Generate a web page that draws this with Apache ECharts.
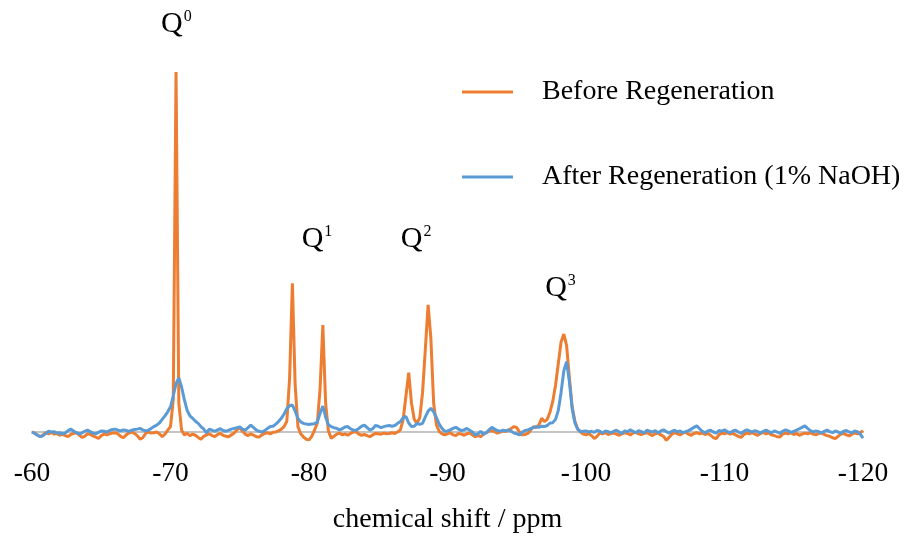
<!DOCTYPE html>
<html>
<head>
<meta charset="utf-8">
<script src="https://cdn.jsdelivr.net/npm/echarts@6/dist/echarts.min.js"></script>
<style>
html,body{margin:0;padding:0;background:#fff;}
#chart{width:924px;height:536px;}
</style>
</head>
<body>
<div id="chart"></div>
<script>
// ---- data ----
const xTicks = [-60, -70, -80, -90, -100, -110, -120];
const ppmStart = -60;
const ppmStep = -0.2;
const seriesNames = ['Before Regeneration', 'After Regeneration (1% NaOH)'];

// intensity sampled every 0.2 ppm from -60 to -120 (301 points)
const before = [
  0, -0.3, -0.9, -1.3, -0.8, -0.2, -0.5, -0.1, -0.6, -0.4,
  -0.9, -0.6, -1.0, -1.3, -0.7, -0.4, -0.2, -0.8, -1.5, -1.2,
  -0.5, -0.6, -1.1, -1.4, -1.8, -1.0, -0.6, -0.8, -0.5, -0.3,
  -0.2, -0.5, -1.2, -1.6, -0.8, -0.3, 0.0, -0.4, -1.0, -2.0,
  -1.6, -0.4, 0.0, -0.3, -0.2, 0.0, -0.5, -1.3, -0.6, 0.5,
  1.5, 9, 100, 8, 0.5, -0.8, -0.4, -1.0, -0.6, -0.9,
  -1.5, -2.0, -1.2, -0.8, -0.5, -1.0, -1.3, -0.7, -0.4, -0.9,
  -1.2, -1.3, -0.8, -0.3, 0.6, 1.2, 0.2, -0.6, -1.0, -0.5,
  -0.9, -1.3, -1.4, -0.8, -0.4, -0.2, -0.5, -0.1, 0.0, 0.3,
  0.8, 1.5, 3, 15, 41.3, 13, 1.5, -0.5, -1.4, -2.0,
  -2.2, -1.2, 0.5, 2.5, 12, 29.7, 8, 0.3, -1.7, -1.2,
  -0.6, -0.3, -0.8, -0.5, -0.9, -0.4, 0.0, 0.1, -0.6, -0.9,
  -0.7, -1.0, -1.3, -0.8, -0.4, -0.5, -0.6, -0.3, -0.5, -0.4,
  -0.2, -0.4, 0.0, 0.6, 3.5, 10, 16.5, 8, 3.5, 2.4,
  4, 11, 23, 35.3, 26, 8, 2, 0.2, -0.5, -0.8,
  -0.5, -0.2, -0.8, -1.0, -0.4, -0.6, -0.9, -0.5, -0.3, -0.8,
  -1.3, -1.0, -1.3, -0.6, -0.2, 0.2, 0.4, 0.1, -0.3, 0.0,
  0.3, 0.2, 0.5, 1.0, 1.5, 1.2, 0.0, -0.8, -0.7, -0.4,
  0.5, 1.5, 1.2, 2.0, 3.8, 2.9, 3.5, 5.5, 8.5, 13,
  19, 25, 27.2, 24, 15, 7, 3, 0.8, 0, -0.6,
  -0.8, -0.4, -1.0, -1.8, -1.2, -0.3, -0.5, -0.2, -0.7, -0.4,
  -0.3, -0.6, -0.9, -0.5, -0.2, -0.4, -0.8, -0.3, -0.1, -0.5,
  -0.7, -0.4, -0.2, -0.6, -1.0, -0.5, -0.3, -0.8, -1.2, -2.3,
  -1.5, -0.6, -0.2, -0.5, -0.8, -0.3, -0.1, -0.6, -0.9, -0.4,
  -0.2, -0.5, -0.3, -0.7, -0.4, -0.9, -1.6, -1.8, -0.8, -0.3,
  -0.5, -0.2, -0.6, -0.4, -0.8, -1.2, -1.5, -0.7, -0.3, -0.5,
  -0.2, -0.6, -0.9, -0.4, -0.1, -0.5, -0.3, -0.8, -1.0, -1.3,
  -1.4, -0.6, -0.3, -0.5, -0.2, -0.7, -0.4, -0.9, -0.6, -0.3,
  -0.5, -0.2, -0.6, -0.8, -0.4, -0.3, -0.7, -1.0, -1.2, -1.6,
  -1.8, -1.2, -0.6, -0.4, -0.8, -1.1, -0.6, -0.3, -0.5, -0.2,
  0.4
];

const after = [
  0, -0.4, -0.9, -1.3, -1.0, -0.4, 0.2, 0.0, 0.1, -0.3,
  -0.2, -0.5, -0.3, 0.4, 0.8, 0.3, -0.2, -0.5, -0.3, 0.2,
  0.5, 0.1, -0.3, -0.5, -0.1, 0.3, 0.2, 0.0, 0.4, 0.7,
  0.8, 0.5, 0.3, 0.6, 0.4, 0.2, 0.5, 0.7, 0.8, 1.0,
  0.6, 0.3, 0.5, 1.0, 1.5, 1.9, 2.5, 3.5, 4.5, 5.6,
  7, 10, 13.5, 15, 12.5, 9, 6, 4.5, 3.8, 3.0,
  2.4, 1.5, 0.8, -0.2, 0.8, 0.5, 0.2, 0.6, 0.9, 0.4,
  0.2, 0.5, 0.8, 1.0, 1.2, 1.4, 0.8, 0.5, 1.2, 1.9,
  1.2, 0.5, 0.2, 0.0, 0.4, 1.0, 1.5, 1.6, 2.2, 2.9,
  3.8, 5, 6.5, 7.3, 7.5, 5.8, 3.8, 2.8, 2.4, 2.2,
  2.1, 2.2, 2.3, 2.8, 5.2, 7.2, 4.2, 2.0, 1.5, 1.2,
  1.0, 0.6, 0.9, 1.4, 1.5, 0.9, 0.5, 0.5, 1.0, 1.6,
  1.9, 1.2, 0.5, 0.9, 1.8, 1.6, 1.2, 1.5, 1.7, 1.8,
  1.6, 1.8, 2.4, 2.9, 4.0, 4.3, 2.5, 1.5, 1.6, 2.4,
  2.1, 2.4, 4.2, 5.8, 6.6, 5.6, 4.0, 2.2, 1.0, 0.2,
  0.3, 0.6, 1.0, 1.3, 0.8, 0.4, 0.6, 1.0, 0.5, 0.0,
  -0.8, -0.5, 0.2, -0.6, -0.2, 0.6, 1.3, 0.8, 0.4, 0.2,
  0.5, 0.3, 0.6, 0.2, -0.3, -0.5, -0.8, 0.0, 0.4, 0.6,
  0.9, 1.2, 1.5, 1.3, 1.6, 1.5, 1.8, 2.5, 2.6, 3.5,
  6, 11, 17, 19.5, 14, 6.5, 2.5, 0.8, 0.1, 0.2,
  0.3, 0.0, 0.2, -0.1, 0.4, 0.2, -0.3, 0.3, 0.1, -0.2,
  0.2, 0.5, 0.0, -0.4, 0.3, 0.1, 0.6, 0.2, -0.2, 0.4,
  0.1, -0.3, 0.5, 0.2, 0.0, 0.4, -0.2, 0.3, 0.6, 0.1,
  -0.3, 0.2, 0.5, 0.0, 0.3, -0.2, 0.1, 0.4, 0.8, 1.3,
  1.7, 0.9, 0.2, -0.2, 0.3, 0.5, 0.0, -0.3, 0.4, 0.2,
  0.6, 0.1, -0.2, 0.3, 0.5, 0.0, -0.4, 0.2, 0.6, 0.3,
  0.0, 0.4, 0.1, -0.3, 0.2, 0.5, 0.1, -0.2, 0.3, 0.0,
  -0.4, 0.2, 0.6, 0.3, -0.1, 0.2, 0.5, 0.9, 1.3, 1.7,
  1.0, 0.4, 0.0, 0.3, 0.1, -0.3, 0.2, 0.5, 0.1, -0.2,
  0.3, 0.0, -0.4, 0.2, 0.4, 0.0, -0.2, 0.3, 0.1, -0.6,
  -1.7
];

// peak annotations (Q^n) anchored in data coordinates
const qLabels = ['0', '1', '2', '3'];
const qPpm = [-70.43, -80.58, -87.73, -98.16];
const qY = [113.3, 53.6, 53.6, 40.1];

// ---- build ----
const ppm = before.map((_, i) => +(ppmStart + ppmStep * i).toFixed(1));
const pair = arr => arr.map((v, i) => [ppm[i], v]);

const FONT = '"Liberation Serif", "Times New Roman", Times, serif';
const chart = echarts.init(document.getElementById('chart'), null, {renderer: 'canvas'});

chart.setOption({
  animation: false,
  backgroundColor: '#ffffff',
  grid: {left: 32, right: 61, top: 72, bottom: 89.6, containLabel: false, outerBoundsMode: 'none'},
  legend: {
    data: seriesNames,
    orient: 'vertical',
    left: 462,
    top: 57,
    padding: 0,
    itemWidth: 51,
    itemHeight: 3,
    itemGap: 15,
    icon: 'rect',
    textStyle: {
      fontFamily: FONT, fontSize: 28, color: '#000', lineHeight: 30,
      padding: [0, 0, 40, 24]
    }
  },
  xAxis: {
    type: 'value',
    inverse: true,
    min: xTicks[xTicks.length - 1],
    max: xTicks[0],
    interval: 10,
    name: 'chemical shift / ppm',
    nameLocation: 'middle',
    nameGap: 59,
    nameTextStyle: {fontFamily: FONT, fontSize: 28, color: '#000'},
    axisLine: {onZero: true, lineStyle: {color: '#c4c4c4', width: 2}},
    axisTick: {show: false},
    splitLine: {show: false},
    axisLabel: {
      fontFamily: FONT, fontSize: 27.5, color: '#000', margin: 13,
      formatter: v => String(v)
    }
  },
  yAxis: {
    type: 'value', min: -4, max: 100, show: false,
    splitLine: {show: false}
  },
  series: [
    {
      name: seriesNames[0], type: 'line', data: pair(before),
      showSymbol: false, symbol: 'none', smooth: false, clip: false,
      itemStyle: {color: '#ED7D31'},
      lineStyle: {color: '#ED7D31', width: 3}
    },
    {
      name: seriesNames[1], type: 'line', data: pair(after),
      showSymbol: false, symbol: 'none', smooth: false, clip: false,
      itemStyle: {color: '#5B9BD5'},
      lineStyle: {color: '#5B9BD5', width: 3}
    },
    {
      name: 'Q labels', type: 'scatter', symbolSize: 0, clip: false,
      silent: true,
      itemStyle: {opacity: 1},
      data: qLabels.map((s, i) => [qPpm[i], qY[i]]),
      label: {
        show: true, position: 'inside', color: '#000', textBorderWidth: 0, opacity: 1,
        formatter: p => '{q|Q}{s|' + qLabels[p.dataIndex] + '}',
        rich: {
          q: {fontFamily: FONT, fontSize: 30, color: '#000', textBorderWidth: 0, verticalAlign: 'bottom'},
          s: {fontFamily: FONT, fontSize: 16, color: '#000', textBorderWidth: 0, verticalAlign: 'top', padding: [0, 0, 0, 1]}
        }
      }
    }
  ]
});
</script>
</body>
</html>
